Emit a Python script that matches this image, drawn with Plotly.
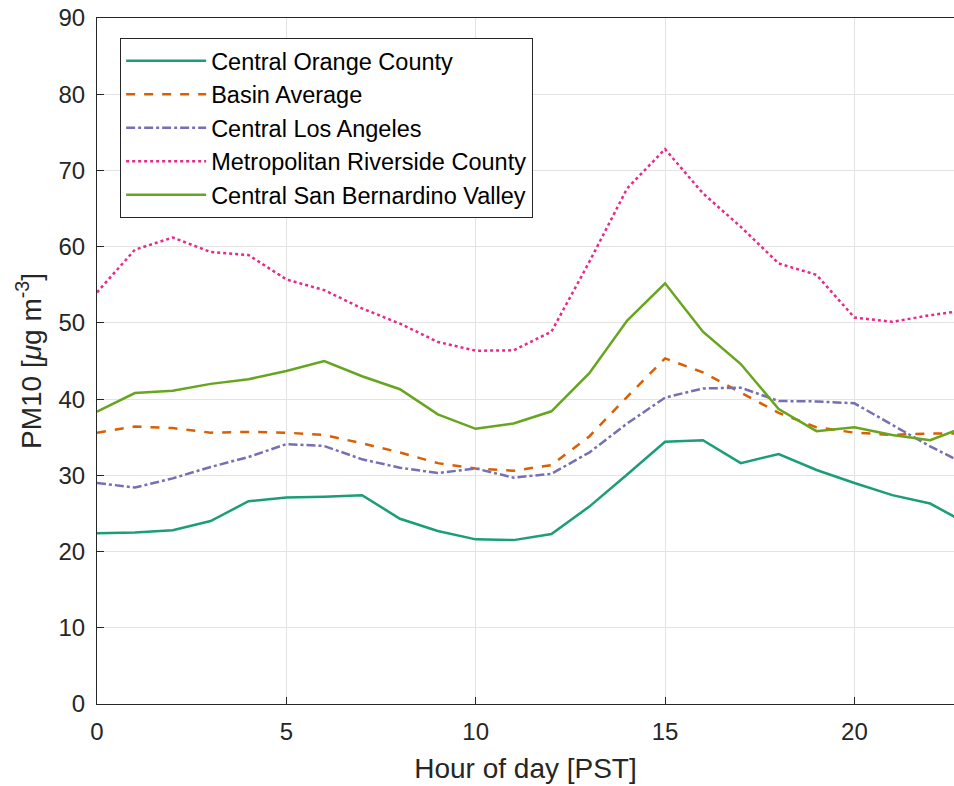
import plotly.graph_objects as go

hours = list(range(24))

central_orange = [22.4, 22.5, 22.8, 24.0, 26.6, 27.1, 27.2, 27.4, 24.3, 22.7, 21.6, 21.5,
                  22.3, 25.9, 30.1, 34.4, 34.6, 31.6, 32.8, 30.7, 29.0, 27.4, 26.3, 23.6]
basin_average = [35.6, 36.4, 36.2, 35.6, 35.7, 35.6, 35.3, 34.2, 33.0, 31.6, 30.9, 30.6,
                 31.35, 35.1, 40.3, 45.35, 43.5, 40.8, 38.2, 36.3, 35.6, 35.3, 35.5, 35.5]
central_la = [29.0, 28.4, 29.6, 31.1, 32.4, 34.1, 33.85, 32.1, 31.0, 30.3, 30.9, 29.7,
              30.2, 33.0, 36.8, 40.2, 41.4, 41.5, 39.75, 39.7, 39.45, 36.6, 33.8, 31.3]
riverside = [54.0, 59.6, 61.2, 59.3, 58.9, 55.7, 54.3, 51.9, 49.9, 47.5, 46.35, 46.4,
             48.85, 58.0, 67.65, 72.8, 67.0, 62.6, 57.8, 56.3, 50.7, 50.15, 51.0, 51.7]
san_bernardino = [38.35, 40.8, 41.1, 42.0, 42.6, 43.7, 45.0, 43.0, 41.3, 38.0, 36.1, 36.8,
                  38.4, 43.4, 50.3, 55.2, 48.85, 44.6, 38.7, 35.8, 36.3, 35.3, 34.6, 36.5]

series = [
    ("Central Orange County", central_orange, "#1b9e77", "solid"),
    ("Basin Average", basin_average, "#d95f02", "dash"),
    ("Central Los Angeles", central_la, "#7570b3", "dashdot"),
    ("Metropolitan Riverside County", riverside, "#e7298a", "dot"),
    ("Central San Bernardino Valley", san_bernardino, "#66a61e", "solid"),
]

fig = go.Figure()
for name, vals, color, dash in series:
    fig.add_trace(go.Scatter(x=hours, y=vals, mode="lines", name=name,
                             line=dict(color=color, width=2.5, dash=dash)))

font = "Liberation Sans, Arial, sans-serif"
axcol = "#262626"
fig.update_layout(
    width=954, height=786,
    margin=dict(l=97, r=0, t=18, b=82),
    paper_bgcolor="white", plot_bgcolor="white",
    font=dict(family=font, size=24, color=axcol),
    showlegend=True,
    legend=dict(x=0.027, y=0.971, xanchor="left", yanchor="top",
                bgcolor="white", bordercolor=axcol, borderwidth=1,
                itemwidth=80,
                font=dict(size=23.5, color="black"), tracegroupgap=0),
    xaxis=dict(range=[0, 22.63], tickvals=[0, 5, 10, 15, 20],
               showgrid=True, gridcolor="#e3e3e3", gridwidth=1,
               showline=True, linecolor=axcol, linewidth=1, mirror=True,
               ticks="inside", ticklen=7, tickcolor=axcol, zeroline=False,
               ticklabelstandoff=6,
               tickfont=dict(size=24, color=axcol),
               title=dict(text="Hour of day [PST]", font=dict(size=28, color=axcol), standoff=14)),
    yaxis=dict(range=[0, 90], tickvals=list(range(0, 91, 10)),
               showgrid=True, gridcolor="#e3e3e3", gridwidth=1,
               showline=True, linecolor=axcol, linewidth=1, mirror=False,
               ticks="inside", ticklen=7, tickcolor=axcol, zeroline=False,
               ticklabelstandoff=6,
               tickfont=dict(size=24, color=axcol),
               title=dict(text="PM10 [<i>μ</i>g m<sup>-3</sup>]", font=dict(size=28, color=axcol), standoff=8)),
)

fig.write_html("out.html", config={"displayModeBar": False},
               post_script="document.body.style.margin='0';document.body.style.overflow='hidden';")
